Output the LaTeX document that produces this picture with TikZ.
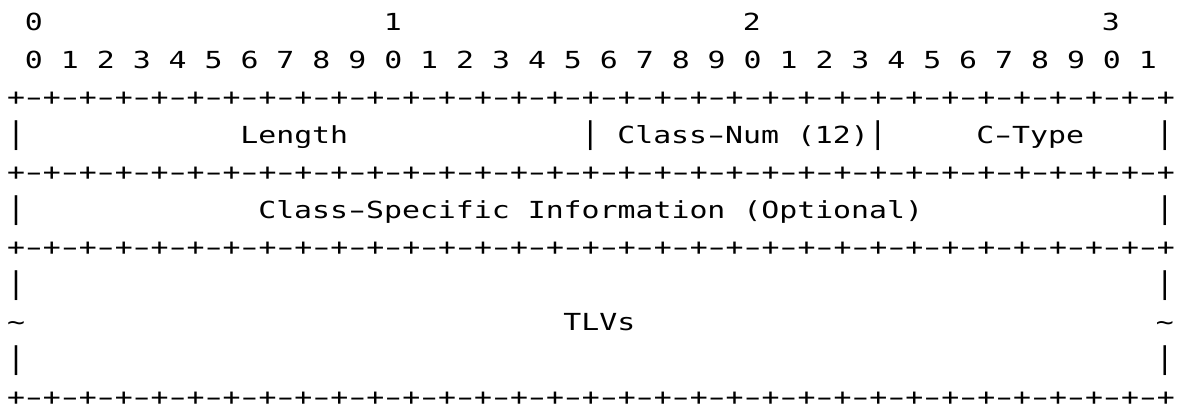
\documentclass[tikz,border=0pt]{standalone}
\usepackage{fontspec}
\usepackage{graphicx}
\newfontfamily\diagfont[WordSpace={1,0,0}]{DejaVu Sans Mono}
% grid of the character cells: column pitch, left edge, first baseline, line pitch
\newcommand\colw{17.95}
\newcommand\xorig{7}
\newcommand\yorig{30.6}
\newcommand\rowh{37.5}
% a taller vertical bar for the field separators
\newcommand\vb{\scalebox{1}[1.27]{|}}
% a wider dash that still fills exactly one character cell
\newcommand\hy{\makebox[\fontcharwd\font`0][c]{\scalebox{1.6}[1]{-}}}
\newcommand\fourbits{+\hy+\hy+\hy+\hy}
\newcommand\border{\fourbits\fourbits\fourbits\fourbits\fourbits\fourbits\fourbits\fourbits+}
\tikzset{
  cell/.style={anchor=base west, inner sep=0pt, outer sep=0pt, text depth=0pt,
    font={\diagfont\fontsize{23.5pt}{28pt}\selectfont}, text=black},
}
% \txt{name}{column}{row}{text}
\newcommand\txt[4]{%
  \node[cell] (#1) at ({\xorig+\colw*#2},{\yorig+\rowh*#3}) {\scalebox{1.27}[1]{#4}};}
\begin{document}
\begin{tikzpicture}[x=1pt,y=-1pt]
  \fill[white] (0,0) rectangle (1186,407);
  \useasboundingbox (0,0) rectangle (1186,407);
  % bit numbering
  \txt{t0}{1}{0}{0}
  \txt{t1}{21}{0}{1}
  \txt{t2}{41}{0}{2}
  \txt{t3}{61}{0}{3}
  \txt{bits}{1}{1}{0 1 2 3 4 5 6 7 8 9 0 1 2 3 4 5 6 7 8 9 0 1 2 3 4 5 6 7 8 9 0 1}
  % first word
  \txt{b0}{0}{2}{\border}
  \txt{l3}{0}{3}{\vb}
  \txt{len}{13}{3}{Length}
  \txt{cnum}{32}{3}{\vb{} Class\hy Num (12)\vb}
  \txt{ctype}{54}{3}{C\hy Type}
  \txt{r3}{64}{3}{\vb}
  \txt{b1}{0}{4}{\border}
  % class-specific information
  \txt{l5}{0}{5}{\vb}
  \txt{csi}{14}{5}{Class\hy Specific Information (Optional)}
  \txt{r5}{64}{5}{\vb}
  \txt{b2}{0}{6}{\border}
  % variable-length TLVs
  \txt{l7}{0}{7}{\vb}
  \txt{r7}{64}{7}{\vb}
  \txt{l8}{0}{8}{\textasciitilde}
  \txt{tlv}{31}{8}{TLVs}
  \txt{r8}{64}{8}{\textasciitilde}
  \txt{l9}{0}{9}{\vb}
  \txt{r9}{64}{9}{\vb}
  \txt{b3}{0}{10}{\border}
\end{tikzpicture}
\end{document}
